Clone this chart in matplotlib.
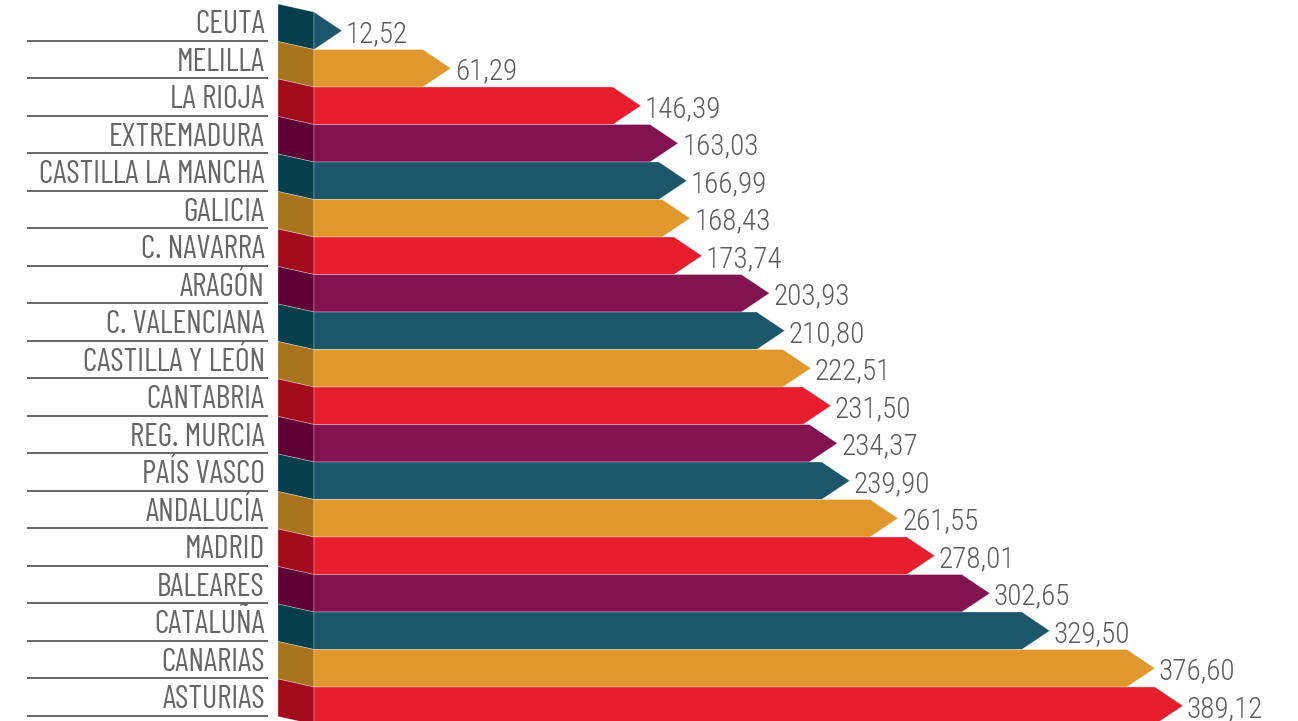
import matplotlib
matplotlib.use('Agg')
import matplotlib.pyplot as plt
from matplotlib.patches import Polygon

regions = ["CEUTA", "MELILLA", "LA RIOJA", "EXTREMADURA", "CASTILLA LA MANCHA",
           "GALICIA", "C. NAVARRA", "ARAGÓN", "C. VALENCIANA", "CASTILLA Y LEÓN",
           "CANTABRIA", "REG. MURCIA", "PAÍS VASCO", "ANDALUCÍA", "MADRID",
           "BALEARES", "CATALUÑA", "CANARIAS", "ASTURIAS"]
values = [12.52, 61.29, 146.39, 163.03, 166.99, 168.43, 173.74, 203.93, 210.80,
          222.51, 231.50, 234.37, 239.90, 261.55, 278.01, 302.65, 329.50, 376.60,
          389.12]

# body colour, darker fold colour
body_colors = ["#1c566b", "#e0982c", "#e81e2e", "#821250"]
fold_colors = ["#053f4c", "#a8741e", "#a10b1b", "#5e0035"]

label_font = ['Barlow Condensed', 'Roboto Condensed', 'DejaVu Sans']
value_font = ['Roboto Condensed', 'Barlow Condensed', 'DejaVu Sans']

fig = plt.figure(figsize=(12.98, 7.21), dpi=100)
ax = fig.add_axes([0, 0, 1, 1])
px = 2.233  # pixels per unit
ax.set_xlim(-314 / px, (1298 - 314) / px)
ax.set_ylim((721 - 12) / 37.5, -12 / 37.5)
ax.axis('off')

head = 28 / px
fold_w = 36 / px
skew = 8 / 37.5
edge = (1, 1, 1, 0.35)

for i, (name, v) in enumerate(zip(regions, values)):
    c = body_colors[i % 4]
    fc = fold_colors[i % 4]
    # folded left flap
    ax.add_patch(Polygon([(-fold_w, i - skew), (0, i), (0, i + 1), (-fold_w, i + 1 - skew)],
                         closed=True, facecolor=fc, edgecolor=edge, lw=0.6))
    # arrow body
    hs = max(0, v - head)
    ax.add_patch(Polygon([(0, i), (hs, i), (v, i + 0.5), (hs, i + 1), (0, i + 1)],
                         closed=True, facecolor=c, edgecolor=edge, lw=0.6))
    # label and underline
    ax.text(-22, i + 0.57, name, ha='right', va='baseline', fontsize=23,
            family=label_font, color='#666666')
    ax.plot([-128.5, -20.6], [i + 0.77, i + 0.77], color='#666666', lw=1.4,
            solid_capstyle='butt')
    # value
    ax.text(v + 1.8, i + 0.8, f"{v:.2f}".replace('.', ','), ha='left', va='baseline',
            fontsize=21, family=value_font, weight='light', color='#5c5c5c')

plt.savefig('out.png', dpi=100)
